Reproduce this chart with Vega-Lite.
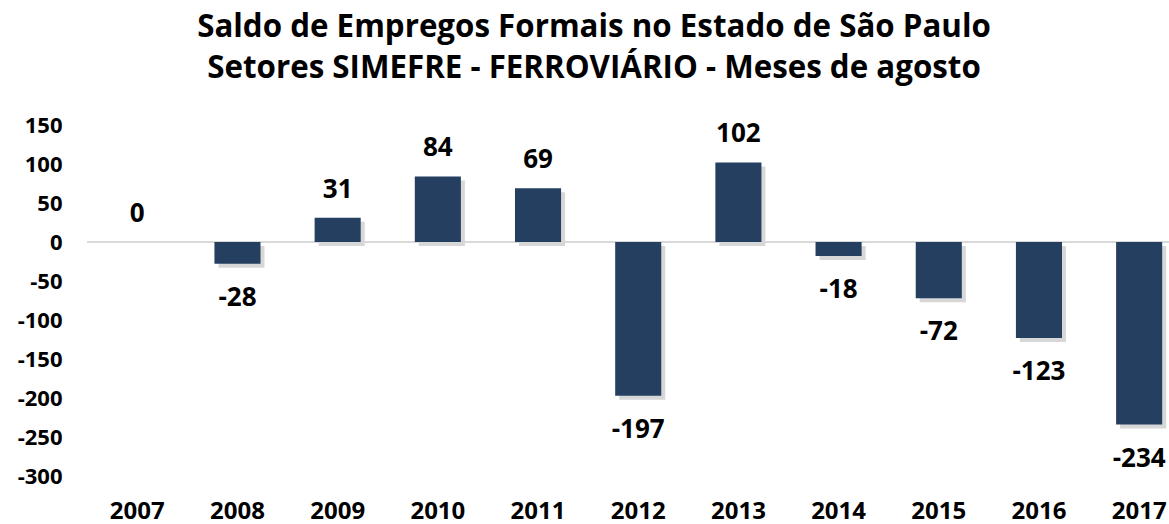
{
  "$schema": "https://vega.github.io/schema/vega-lite/v6.json",
  "width": 1082,
  "height": 351,
  "autosize": {"type": "none"},
  "padding": {"left": 87, "top": 125, "right": 0, "bottom": 48},
  "background": "white",
  "title": {
    "text": ["Saldo de Empregos Formais no Estado de São Paulo", "Setores SIMEFRE - FERROVIÁRIO - Meses de agosto"],
    "font": "Open Sans",
    "fontSize": 31.3,
    "fontWeight": "bold",
    "color": "#000000",
    "lineHeight": 41,
    "anchor": "middle",
    "frame": "group",
    "dx": -34,
    "offset": 30
  },
  "config": {
    "view": {"stroke": null},
    "font": "Open Sans",
    "axisY": {"labelOverlap": false},
    "locale": {
      "number": {"decimal": ",", "thousands": ".", "grouping": [3], "currency": ["R$", ""], "minus": "-"}
    }
  },
  "data": {
    "values": [
      {"ano": "2007", "saldo": 0},
      {"ano": "2008", "saldo": -28},
      {"ano": "2009", "saldo": 31},
      {"ano": "2010", "saldo": 84},
      {"ano": "2011", "saldo": 69},
      {"ano": "2012", "saldo": -197},
      {"ano": "2013", "saldo": 102},
      {"ano": "2014", "saldo": -18},
      {"ano": "2015", "saldo": -72},
      {"ano": "2016", "saldo": -123},
      {"ano": "2017", "saldo": -234}
    ]
  },
  "encoding": {
    "x": {
      "field": "ano",
      "type": "ordinal",
      "sort": null,
      "scale": {"paddingInner": 0.54, "paddingOuter": 0.17, "align": 0.8},
      "axis": {
        "title": null,
        "domain": false,
        "ticks": false,
        "labelAngle": 0,
        "labelFont": "Open Sans",
        "labelFontSize": 24,
        "labelFontWeight": "bold",
        "labelColor": "#000000",
        "labelPadding": 23,
        "labelOverlap": false
      }
    },
    "y": {
      "field": "saldo",
      "type": "quantitative",
      "scale": {"domain": [-300, 150], "nice": false, "zero": true},
      "axis": {
        "title": null,
        "domain": false,
        "ticks": false,
        "grid": false,
        "values": [-300, -250, -200, -150, -100, -50, 0, 50, 100, 150],
        "labelExpr": "toString(datum.value)",
        "labelOverlap": false,
        "labelFont": "Open Sans",
        "labelFontSize": 22,
        "labelFontWeight": "bold",
        "labelColor": "#000000",
        "labelPadding": 25
      }
    }
  },
  "layer": [
    {
      "mark": {"type": "bar", "color": "#9a9a9a", "opacity": 0.4, "xOffset": 4, "yOffset": 4}
    },
    {
      "mark": {"type": "rule", "color": "#d9d9d9", "strokeWidth": 1.5},
      "encoding": {"y": {"datum": 0, "type": "quantitative"}, "x": {"value": 0}, "x2": {"value": 1082}}
    },
    {
      "mark": {"type": "bar", "color": "#243F60"}
    },
    {
      "transform": [{"filter": "datum.saldo >= 0"}],
      "mark": {"type": "text", "font": "Open Sans", "fontSize": 26, "fontWeight": "bold", "color": "#000000", "baseline": "alphabetic", "dy": -20},
      "encoding": {
        "text": {"field": "saldo", "type": "nominal"}
      }
    },
    {
      "transform": [{"filter": "datum.saldo < 0"}],
      "mark": {"type": "text", "font": "Open Sans", "fontSize": 26, "fontWeight": "bold", "color": "#000000", "baseline": "top", "dy": 21},
      "encoding": {
        "text": {"field": "saldo", "type": "nominal"}
      }
    }
  ]
}
